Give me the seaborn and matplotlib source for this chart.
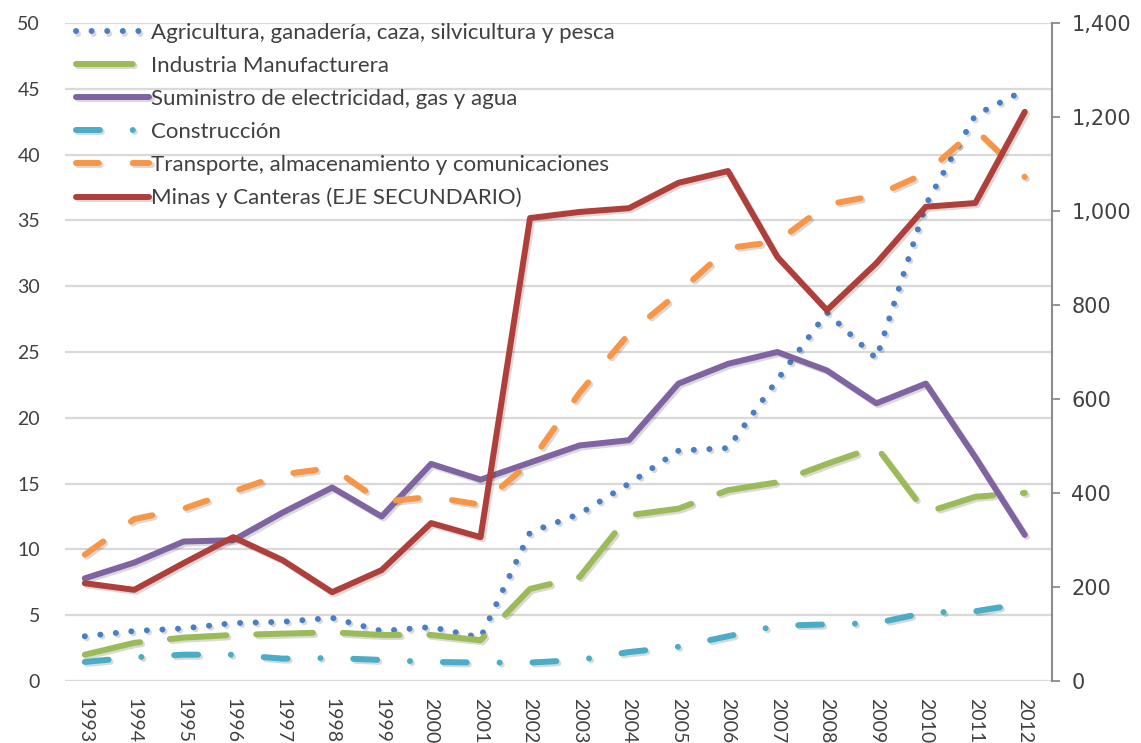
import numpy as np
import pandas as pd
import seaborn as sns
import matplotlib.pyplot as plt
from matplotlib import patheffects as pe
from matplotlib.ticker import FuncFormatter, MultipleLocator

sns.set_theme(style='white')
plt.rcParams['font.family'] = ['Lato', 'DejaVu Sans']

## Data
years = list(range(1993, 2013))
agricultura = [3.4, 3.8, 4.0, 4.4, 4.5, 4.8, 3.8, 4.1, 3.3, 11.3, 12.7, 15.0, 17.5, 17.7, 22.9, 28.0, 24.5, 36.2, 43.0, 44.9]
industria = [2.0, 2.9, 3.3, 3.5, 3.6, 3.7, 3.5, 3.5, 3.1, 7.0, 7.9, 12.6, 13.1, 14.5, 15.1, 16.5, 17.8, 12.8, 14.0, 14.3]
suministro = [7.8, 9.0, 10.6, 10.7, 12.8, 14.7, 12.5, 16.5, 15.3, 16.6, 17.9, 18.3, 22.6, 24.1, 25.0, 23.6, 21.1, 22.6, 17.0, 11.1]
construccion = [1.45, 1.8, 2.0, 2.0, 1.7, 1.75, 1.6, 1.45, 1.4, 1.4, 1.6, 2.2, 2.6, 3.4, 4.2, 4.3, 4.4, 5.2, 5.3, 5.9]
transporte = [9.6, 12.3, 13.1, 14.4, 15.7, 16.2, 13.6, 14.0, 13.4, 16.6, 21.9, 26.4, 29.5, 32.9, 33.4, 36.2, 36.9, 38.6, 41.9, 38.3]
minas = [208, 194, 251, 306, 257, 189, 236, 336, 306, 985, 998, 1006, 1060, 1085, 902, 789, 889, 1009, 1017, 1211]

labels = ['Agricultura, ganadería, caza, silvicultura y pesca',
          'Industria Manufacturera',
          'Suministro de electricidad, gas y agua',
          'Construcción',
          'Transporte, almacenamiento y comunicaciones',
          'Minas y Canteras (EJE SECUNDARIO)']

text_col = '#404040'
lw = 4.3
shadow = [pe.SimpleLineShadow(offset=(1.5, -1.5), shadow_color='black', alpha=0.15), pe.Normal()]

fig, ax = plt.subplots(figsize=(11.41, 7.43), dpi=100)
fig.subplots_adjust(left=65/1141, right=1052/1141, top=1-23/743, bottom=1-681/743)
ax2 = ax.twinx()

# left axis series: (values, colour, linestyle)
left_series = [
    (agricultura, '#4A7EC4', (0, (0.01, 2.6))),
    (industria, '#9BBB59', (0, (9.5, 5.0))),
    (suministro, '#8064A2', '-'),
    (construccion, '#4BACC6', (0, (4.0, 5.5, 0.01, 5.5))),
    (transporte, '#F79646', (0, (3.8, 5.7))),
]
handles = []
for vals, col, ls in left_series:
    sns.lineplot(x=years, y=vals, ax=ax, color=col, lw=lw, linestyle=ls,
                 dash_capstyle='round', solid_capstyle='round',
                 path_effects=shadow)
    handles.append(ax.lines[-1])

sns.lineplot(x=years, y=minas, ax=ax2, color='#AE3F3B', lw=lw,
             solid_capstyle='round', path_effects=shadow)
handles.append(ax2.lines[-1])

ax.set_xlim(1992.6, 2012.55)
ax.set_ylim(0, 50)
ax2.set_ylim(0, 1400)

ax.yaxis.set_major_locator(MultipleLocator(5))
ax.grid(axis='y', color='#D9D9D9', lw=1.6)
ax.grid(axis='x', visible=False)
ax2.grid(False)
ax.set_axisbelow(True)

ax.set_xticks(years)
ax.set_xticklabels(years, rotation=-90)
ax.tick_params(axis='x', length=0, pad=12, labelsize=14, labelcolor=text_col)
ax.tick_params(axis='y', length=0, pad=18, labelsize=14, labelcolor=text_col)
ax.set_xlabel('')
ax.set_ylabel('')

ax2.yaxis.set_major_locator(MultipleLocator(200))
ax2.yaxis.set_major_formatter(FuncFormatter(lambda v, p: f'{int(v):,}'))
ax2.tick_params(axis='y', length=6, width=1.3, color='#8C8C8C', pad=8, labelsize=15, labelcolor=text_col)
for t in ax2.get_yticklabels():
    t.set_family('DejaVu Sans')
ax2.set_ylabel('')

for s in ['left', 'top', 'right', 'bottom']:
    ax.spines[s].set_visible(False)
for s in ['left', 'top', 'bottom']:
    ax2.spines[s].set_visible(False)
ax2.spines['right'].set_color('#8C8C8C')
ax2.spines['right'].set_linewidth(1.5)

leg = ax2.legend(handles, labels, loc='upper left', bbox_to_anchor=(0.009, 1.003),
                 frameon=False, fontsize=16, handlelength=3.3, handletextpad=0.05,
                 labelspacing=0.58, borderpad=0.1, borderaxespad=0)
for t in leg.get_texts():
    t.set_color(text_col)

plt.savefig('out.png', dpi=100)
